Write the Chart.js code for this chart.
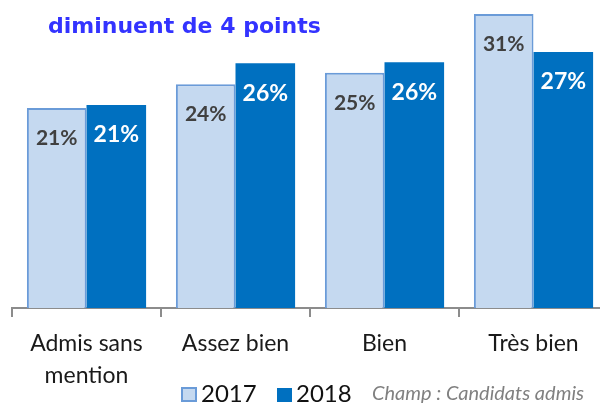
<!DOCTYPE html>
<html lang="fr">
  <head>
    <meta charset="UTF-8" />
    <title>Mentions au bac 2017 / 2018</title>
    <script src="https://cdn.jsdelivr.net/npm/chart.js"></script>
    <style>
      html, body { margin: 0; padding: 0; background: #fff; overflow: hidden; }
      #wrap { width: 612px; height: 403px; }
    </style>
  </head>
  <body>
    <div id="wrap"><canvas id="mentionsChart" width="612" height="403"></canvas></div>

    <script>
      // Data
      const categories = [['Admis sans', 'mention'], 'Assez bien', 'Bien', 'Très bien'];
      const seriesNames = ['2017', '2018'];
      const values2017 = [21.1, 23.6, 24.8, 31.0];
      const values2018 = [21.4, 25.8, 25.9, 27.0];
      const titleText = 'diminuent de 4 points';
      const noteText = 'Champ : Candidats admis';

      const lightFill = '#C5D9F0';
      const lightBorder = '#6A9BD8';
      const darkFill = '#0070C0';

      // Percent labels inside the bars, near the top
      const valueLabels = {
        id: 'valueLabels',
        afterDatasetsDraw(chart) {
          const ctx = chart.ctx;
          ctx.save();
          ctx.textAlign = 'center';
          ctx.textBaseline = 'middle';
          chart.data.datasets.forEach((ds, i) => {
            const meta = chart.getDatasetMeta(i);
            meta.data.forEach((bar, j) => {
              const txt = Math.round(ds.data[j]) + '%';
              if (i === 0) {
                ctx.font = 'bold 21px Lato';
                ctx.fillStyle = '#404040';
              } else {
                ctx.font = 'bold 23px Lato';
                ctx.fillStyle = '#ffffff';
              }
              ctx.fillText(txt, bar.x, bar.y + 30);
            });
          });
          ctx.restore();
        }
      };

      // Title, legend and note drawn over the canvas
      const extras = {
        id: 'extras',
        afterDraw(chart) {
          const ctx = chart.ctx;
          ctx.save();
          ctx.font = 'bold 22px "DejaVu Sans"';
          ctx.fillStyle = '#3333FF';
          ctx.textBaseline = 'alphabetic';
          ctx.textAlign = 'left';
          ctx.fillText(titleText, 48, 33);

          // legend
          ctx.fillStyle = lightFill;
          ctx.fillRect(182, 388, 14, 13);
          ctx.strokeStyle = lightBorder;
          ctx.lineWidth = 2;
          ctx.strokeRect(182, 388, 14, 13);
          ctx.fillStyle = darkFill;
          ctx.fillRect(277, 388, 15, 14);

          ctx.fillStyle = '#111';
          ctx.font = '24px Lato';
          ctx.textBaseline = 'middle';
          ctx.fillText(seriesNames[0], 201, 394);
          ctx.fillText(seriesNames[1], 296, 394);

          ctx.fillStyle = '#808080';
          ctx.font = 'italic 20px Lato';
          ctx.fillText(noteText, 372, 394);
          ctx.restore();
        }
      };

      new Chart(document.getElementById('mentionsChart'), {
        type: 'bar',
        data: {
          labels: categories,
          datasets: [
            {
              label: seriesNames[0],
              data: values2017,
              backgroundColor: lightFill,
              borderColor: lightBorder,
              borderWidth: 2,
              barPercentage: 1,
              categoryPercentage: 0.8
            },
            {
              label: seriesNames[1],
              data: values2018,
              backgroundColor: darkFill,
              borderWidth: 0,
              barPercentage: 1,
              categoryPercentage: 0.8
            }
          ]
        },
        options: {
          responsive: false,
          animation: false,
          layout: { padding: { left: 12, right: 4, top: 14, bottom: 0 } },
          plugins: {
            legend: { display: false },
            tooltip: { enabled: false }
          },
          scales: {
            y: { display: false, min: 0, max: 31 },
            x: {
              afterFit(scale) { scale.height = 95; },
              border: { color: '#8c8c8c', width: 2 },
              grid: { drawOnChartArea: false, drawTicks: true, tickLength: 9, color: '#8c8c8c', lineWidth: 2 },
              ticks: {
                color: '#1a1a1a',
                font: { family: 'Lato', size: 23, lineHeight: 1.4 },
                padding: 10,
                maxRotation: 0
              }
            }
          }
        },
        plugins: [valueLabels, extras]
      });
    </script>
  </body>
</html>
